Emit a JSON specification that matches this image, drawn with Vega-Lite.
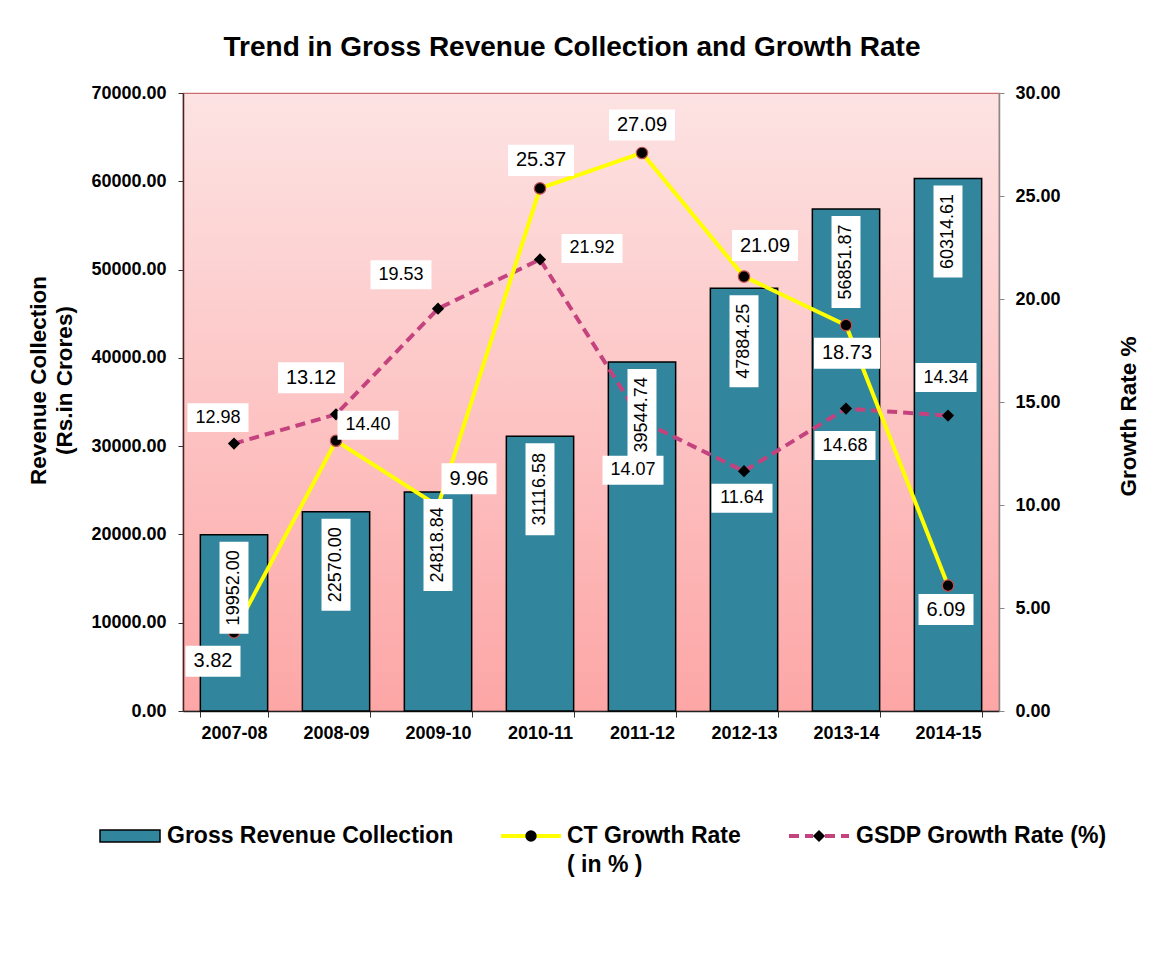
{
  "$schema": "https://vega.github.io/schema/vega-lite/v6.json",
  "width": 816,
  "height": 618,
  "autosize": "none",
  "padding": {"left": 183, "top": 93, "right": 168, "bottom": 243},
  "background": "white",
  "title": {
    "text": "Trend in Gross Revenue Collection and Growth Rate",
    "font": "Liberation Sans",
    "fontSize": 28,
    "fontWeight": "bold",
    "color": "black",
    "offset": 22,
    "dx": -19
  },
  "data": {
    "values": [
      {"year": "2007-08", "revenue": 19952.00, "ct": 3.82, "gsdp": 12.98},
      {"year": "2008-09", "revenue": 22570.00, "ct": 13.12, "gsdp": 14.40},
      {"year": "2009-10", "revenue": 24818.84, "ct": 9.96, "gsdp": 19.53},
      {"year": "2010-11", "revenue": 31116.58, "ct": 25.37, "gsdp": 21.92},
      {"year": "2011-12", "revenue": 39544.74, "ct": 27.09, "gsdp": 14.07},
      {"year": "2012-13", "revenue": 47884.25, "ct": 21.09, "gsdp": 11.64},
      {"year": "2013-14", "revenue": 56851.87, "ct": 18.73, "gsdp": 14.68},
      {"year": "2014-15", "revenue": 60314.61, "ct": 6.09, "gsdp": 14.34}
    ]
  },
  "encoding": {
    "x": {
      "field": "year",
      "type": "nominal",
      "sort": null,
      "scale": {"paddingInner": 0.34, "paddingOuter": 0.17},
      "axis": {
        "title": null,
        "labelAngle": 0,
        "tickBand": "extent",
        "tickSize": 6,
        "tickColor": "#333333",
        "domainColor": "#222222",
        "domainWidth": 1.5,
        "labelPadding": 7,
        "labelFontSize": 18
      }
    }
  },
  "layer": [
    {
      "mark": {"type": "bar", "stroke": "black", "strokeWidth": 1.5},
      "encoding": {
        "y": {
          "field": "revenue",
          "type": "quantitative",
          "scale": {"domain": [0, 70000], "nice": false},
          "axis": {
            "values": [0, 10000, 20000, 30000, 40000, 50000, 60000, 70000],
            "format": ".2f",
            "tickSize": 5,
            "tickColor": "#333333",
            "domainColor": "#4a2424",
            "domainWidth": 1.5,
            "labelPadding": 12,
            "title": ["Revenue Collection", "(Rs.in Crores)"],
            "titleFontSize": 22.5,
            "titleLineHeight": 26,
            "titleAngle": 270,
            "titleAlign": "center",
            "titleBaseline": "top",
            "titleX": -156,
            "titleY": 287
          }
        },
        "fill": {
          "datum": "Gross Revenue Collection",
          "type": "nominal",
          "scale": {"domain": ["Gross Revenue Collection"], "range": ["#31859C"]},
          "legend": {
            "orient": "none",
            "legendX": -84,
            "legendY": 712,
            "padding": 0,
            "title": null,
            "symbolType": "M-1,-0.2H1V0.2H-1Z",
            "symbolSize": 3600,
            "symbolStrokeColor": "black",
            "symbolStrokeWidth": 1.5,
            "labelOffset": 6,
            "labelFont": "Liberation Sans",
            "labelFontSize": 23,
            "labelFontWeight": "bold",
            "labelColor": "black",
            "labelLimit": 0
          }
        }
      }
    },
    {
      "transform": [{"fold": ["ct", "gsdp"], "as": ["series", "rate"]}],
      "encoding": {
        "y": {
          "field": "rate",
          "type": "quantitative",
          "scale": {"domain": [0, 30], "nice": false},
          "axis": {
            "orient": "right",
            "values": [0, 5, 10, 15, 20, 25, 30],
            "format": ".2f",
            "tickSize": 5,
            "tickColor": "#888888",
            "domainColor": "#888888",
            "domainWidth": 1.5,
            "labelPadding": 11,
            "title": "Growth Rate %",
            "titleFontSize": 22.5,
            "titleAngle": 270,
            "titleAlign": "center",
            "titleBaseline": "middle",
            "titleX": 129,
            "titleY": 323
          }
        }
      },
      "resolve": {"scale": {"shape": "independent"}},
      "layer": [
        {
          "transform": [{"filter": "datum.series === 'gsdp'"}],
          "mark": {"type": "line", "color": "#C4437F", "strokeWidth": 4},
          "encoding": {
            "strokeDash": {
              "datum": "GSDP Growth Rate (%)",
              "type": "nominal",
              "scale": {"domain": ["GSDP Growth Rate (%)"], "range": [[10, 6]]},
              "legend": {
                "orient": "none",
                "legendX": 604,
                "legendY": 711,
                "padding": 0,
                "title": null,
                "symbolType": "M-1,0H-0.2M0.2,0H1",
                "symbolSize": 3600,
                "symbolStrokeColor": "#C4437F",
                "symbolStrokeWidth": 4,
                "labelOffset": 5,
                "labelFont": "Liberation Sans",
                "labelFontSize": 23,
                "labelFontWeight": "bold",
                "labelColor": "black",
                "labelLimit": 0
              }
            }
          }
        },
        {
          "transform": [{"filter": "datum.series === 'ct'"}],
          "mark": {"type": "line", "strokeWidth": 4},
          "encoding": {
            "stroke": {
              "datum": "CT Growth Rate",
              "type": "nominal",
              "scale": {"domain": ["CT Growth Rate"], "range": ["#FFFF00"]},
              "legend": {
                "orient": "none",
                "legendX": 316,
                "legendY": 711,
                "padding": 0,
                "title": null,
                "symbolType": "M-1,0H-0.15M0.15,0H1",
                "symbolSize": 3600,
                "symbolStrokeWidth": 4,
                "labelOffset": 4,
                "labelFont": "Liberation Sans",
                "labelFontSize": 23,
                "labelFontWeight": "bold",
                "labelColor": "black",
                "labelLimit": 0,
                "labelExpr": "['CT Growth Rate', '( in % )']"
              }
            }
          }
        },
        {
          "transform": [{"filter": "datum.series === 'gsdp'"}],
          "mark": {"type": "point", "filled": true, "fill": "black", "size": 150, "opacity": 1, "strokeWidth": 0},
          "encoding": {
            "shape": {
              "datum": "GSDP dot",
              "type": "nominal",
              "scale": {"domain": ["GSDP dot"], "range": ["diamond"]},
              "legend": {
                "orient": "none",
                "legendX": 624.5,
                "legendY": 731.5,
                "padding": 0,
                "title": null,
                "symbolSize": 150,
                "symbolFillColor": "black",
                "symbolStrokeWidth": 0,
                "labelFont": "Liberation Sans",
                "labelFontSize": 23,
                "labelExpr": "''",
                "labelLimit": 0
              }
            }
          }
        },
        {
          "transform": [{"filter": "datum.series === 'ct'"}],
          "mark": {"type": "point", "filled": true, "fill": "black", "stroke": "#C0504D", "strokeWidth": 1.2, "size": 130, "opacity": 1},
          "encoding": {
            "shape": {
              "datum": "CT dot",
              "type": "nominal",
              "scale": {"domain": ["CT dot"], "range": ["circle"]},
              "legend": {
                "orient": "none",
                "legendX": 336.5,
                "legendY": 731.5,
                "padding": 0,
                "title": null,
                "symbolSize": 130,
                "symbolFillColor": "black",
                "symbolStrokeColor": "#C0504D",
                "symbolStrokeWidth": 1.2,
                "labelFont": "Liberation Sans",
                "labelFontSize": 23,
                "labelExpr": "''",
                "labelLimit": 0
              }
            }
          }
        },
        {
          "transform": [{"filter": "datum.series === 'gsdp' && datum.year === '2007-08'"}],
          "encoding": {"text": {"field": "rate", "type": "quantitative", "format": ".2f"}},
          "layer": [
            {"mark": {"type": "point", "shape": "M-1,-0.475H1V0.475H-1Z", "size": 3721, "filled": true, "fill": "white", "opacity": 1, "strokeWidth": 0, "xOffset": -16, "yOffset": -26}},
            {"mark": {"type": "text", "font": "Liberation Sans", "fontSize": 18, "color": "black", "xOffset": -16, "yOffset": -26}}
          ]
        },
        {
          "transform": [{"filter": "datum.series === 'gsdp' && datum.year === '2008-09'"}],
          "encoding": {"text": {"field": "rate", "type": "quantitative", "format": ".2f"}},
          "layer": [
            {"mark": {"type": "point", "shape": "M-1,-0.475H1V0.475H-1Z", "size": 3721, "filled": true, "fill": "white", "opacity": 1, "strokeWidth": 0, "xOffset": 32, "yOffset": 11}},
            {"mark": {"type": "text", "font": "Liberation Sans", "fontSize": 18, "color": "black", "xOffset": 32, "yOffset": 11}}
          ]
        },
        {
          "transform": [{"filter": "datum.series === 'gsdp' && datum.year === '2009-10'"}],
          "encoding": {"text": {"field": "rate", "type": "quantitative", "format": ".2f"}},
          "layer": [
            {"mark": {"type": "point", "shape": "M-1,-0.475H1V0.475H-1Z", "size": 3721, "filled": true, "fill": "white", "opacity": 1, "strokeWidth": 0, "xOffset": -37, "yOffset": -34}},
            {"mark": {"type": "text", "font": "Liberation Sans", "fontSize": 18, "color": "black", "xOffset": -37, "yOffset": -34}}
          ]
        },
        {
          "transform": [{"filter": "datum.series === 'gsdp' && datum.year === '2010-11'"}],
          "encoding": {"text": {"field": "rate", "type": "quantitative", "format": ".2f"}},
          "layer": [
            {"mark": {"type": "point", "shape": "M-1,-0.475H1V0.475H-1Z", "size": 3721, "filled": true, "fill": "white", "opacity": 1, "strokeWidth": 0, "xOffset": 52, "yOffset": -11}},
            {"mark": {"type": "text", "font": "Liberation Sans", "fontSize": 18, "color": "black", "xOffset": 52, "yOffset": -11}}
          ]
        },
        {
          "transform": [{"filter": "datum.series === 'gsdp' && datum.year === '2011-12'"}],
          "encoding": {"text": {"field": "rate", "type": "quantitative", "format": ".2f"}},
          "layer": [
            {"mark": {"type": "point", "shape": "M-1,-0.475H1V0.475H-1Z", "size": 3721, "filled": true, "fill": "white", "opacity": 1, "strokeWidth": 0, "xOffset": -9, "yOffset": 49}},
            {"mark": {"type": "text", "font": "Liberation Sans", "fontSize": 18, "color": "black", "xOffset": -9, "yOffset": 49}}
          ]
        },
        {
          "transform": [{"filter": "datum.series === 'gsdp' && datum.year === '2012-13'"}],
          "encoding": {"text": {"field": "rate", "type": "quantitative", "format": ".2f"}},
          "layer": [
            {"mark": {"type": "point", "shape": "M-1,-0.475H1V0.475H-1Z", "size": 3721, "filled": true, "fill": "white", "opacity": 1, "strokeWidth": 0, "xOffset": -2, "yOffset": 27}},
            {"mark": {"type": "text", "font": "Liberation Sans", "fontSize": 18, "color": "black", "xOffset": -2, "yOffset": 27}}
          ]
        },
        {
          "transform": [{"filter": "datum.series === 'gsdp' && datum.year === '2013-14'"}],
          "encoding": {"text": {"field": "rate", "type": "quantitative", "format": ".2f"}},
          "layer": [
            {"mark": {"type": "point", "shape": "M-1,-0.475H1V0.475H-1Z", "size": 3721, "filled": true, "fill": "white", "opacity": 1, "strokeWidth": 0, "xOffset": -1, "yOffset": 37}},
            {"mark": {"type": "text", "font": "Liberation Sans", "fontSize": 18, "color": "black", "xOffset": -1, "yOffset": 37}}
          ]
        },
        {
          "transform": [{"filter": "datum.series === 'gsdp' && datum.year === '2014-15'"}],
          "encoding": {"text": {"field": "rate", "type": "quantitative", "format": ".2f"}},
          "layer": [
            {"mark": {"type": "point", "shape": "M-1,-0.475H1V0.475H-1Z", "size": 3721, "filled": true, "fill": "white", "opacity": 1, "strokeWidth": 0, "xOffset": -2, "yOffset": -38}},
            {"mark": {"type": "text", "font": "Liberation Sans", "fontSize": 18, "color": "black", "xOffset": -2, "yOffset": -38}}
          ]
        },
        {
          "transform": [{"filter": "datum.series === 'ct' && datum.year === '2007-08'"}],
          "encoding": {"text": {"field": "rate", "type": "quantitative", "format": ".2f"}},
          "layer": [
            {"mark": {"type": "point", "shape": "M-1,-0.564H1V0.564H-1Z", "size": 3025, "filled": true, "fill": "white", "opacity": 1, "strokeWidth": 0, "xOffset": -21, "yOffset": 29}},
            {"mark": {"type": "text", "font": "Liberation Sans", "fontSize": 20, "color": "black", "xOffset": -21, "yOffset": 29}}
          ]
        },
        {
          "transform": [{"filter": "datum.series === 'ct' && datum.year === '2008-09'"}],
          "encoding": {"text": {"field": "rate", "type": "quantitative", "format": ".2f"}},
          "layer": [
            {"mark": {"type": "point", "shape": "M-1,-0.47H1V0.47H-1Z", "size": 4356, "filled": true, "fill": "white", "opacity": 1, "strokeWidth": 0, "xOffset": -25, "yOffset": -63}},
            {"mark": {"type": "text", "font": "Liberation Sans", "fontSize": 20, "color": "black", "xOffset": -25, "yOffset": -63}}
          ]
        },
        {
          "transform": [{"filter": "datum.series === 'ct' && datum.year === '2009-10'"}],
          "encoding": {"text": {"field": "rate", "type": "quantitative", "format": ".2f"}},
          "layer": [
            {"mark": {"type": "point", "shape": "M-1,-0.564H1V0.564H-1Z", "size": 3025, "filled": true, "fill": "white", "opacity": 1, "strokeWidth": 0, "xOffset": 31, "yOffset": -27}},
            {"mark": {"type": "text", "font": "Liberation Sans", "fontSize": 20, "color": "black", "xOffset": 31, "yOffset": -27}}
          ]
        },
        {
          "transform": [{"filter": "datum.series === 'ct' && datum.year === '2010-11'"}],
          "encoding": {"text": {"field": "rate", "type": "quantitative", "format": ".2f"}},
          "layer": [
            {"mark": {"type": "point", "shape": "M-1,-0.47H1V0.47H-1Z", "size": 4356, "filled": true, "fill": "white", "opacity": 1, "strokeWidth": 0, "xOffset": 1, "yOffset": -28}},
            {"mark": {"type": "text", "font": "Liberation Sans", "fontSize": 20, "color": "black", "xOffset": 1, "yOffset": -28}}
          ]
        },
        {
          "transform": [{"filter": "datum.series === 'ct' && datum.year === '2011-12'"}],
          "encoding": {"text": {"field": "rate", "type": "quantitative", "format": ".2f"}},
          "layer": [
            {"mark": {"type": "point", "shape": "M-1,-0.47H1V0.47H-1Z", "size": 4356, "filled": true, "fill": "white", "opacity": 1, "strokeWidth": 0, "xOffset": 0, "yOffset": -28}},
            {"mark": {"type": "text", "font": "Liberation Sans", "fontSize": 20, "color": "black", "xOffset": 0, "yOffset": -28}}
          ]
        },
        {
          "transform": [{"filter": "datum.series === 'ct' && datum.year === '2012-13'"}],
          "encoding": {"text": {"field": "rate", "type": "quantitative", "format": ".2f"}},
          "layer": [
            {"mark": {"type": "point", "shape": "M-1,-0.47H1V0.47H-1Z", "size": 4356, "filled": true, "fill": "white", "opacity": 1, "strokeWidth": 0, "xOffset": 21, "yOffset": -31}},
            {"mark": {"type": "text", "font": "Liberation Sans", "fontSize": 20, "color": "black", "xOffset": 21, "yOffset": -31}}
          ]
        },
        {
          "transform": [{"filter": "datum.series === 'ct' && datum.year === '2013-14'"}],
          "encoding": {"text": {"field": "rate", "type": "quantitative", "format": ".2f"}},
          "layer": [
            {"mark": {"type": "point", "shape": "M-1,-0.47H1V0.47H-1Z", "size": 4356, "filled": true, "fill": "white", "opacity": 1, "strokeWidth": 0, "xOffset": 1, "yOffset": 28}},
            {"mark": {"type": "text", "font": "Liberation Sans", "fontSize": 20, "color": "black", "xOffset": 1, "yOffset": 28}}
          ]
        },
        {
          "transform": [{"filter": "datum.series === 'ct' && datum.year === '2014-15'"}],
          "encoding": {"text": {"field": "rate", "type": "quantitative", "format": ".2f"}},
          "layer": [
            {"mark": {"type": "point", "shape": "M-1,-0.564H1V0.564H-1Z", "size": 3025, "filled": true, "fill": "white", "opacity": 1, "strokeWidth": 0, "xOffset": -2, "yOffset": 24}},
            {"mark": {"type": "text", "font": "Liberation Sans", "fontSize": 20, "color": "black", "xOffset": -2, "yOffset": 24}}
          ]
        }
      ]
    },
    {
      "encoding": {
        "y": {"field": "revenue", "type": "quantitative", "scale": {"domain": [0, 70000], "nice": false}, "axis": null},
        "text": {"field": "revenue", "type": "quantitative", "format": ".2f"}
      },
      "layer": [
        {"mark": {"type": "point", "shape": "M-0.315,-1H0.315V1H-0.315Z", "size": 8464, "filled": true, "fill": "white", "opacity": 1, "strokeWidth": 0, "yOffset": 53}},
        {"mark": {"type": "text", "font": "Liberation Sans", "fontSize": 18, "color": "black", "angle": 270, "align": "center", "baseline": "middle", "yOffset": 53}}
      ]
    }
  ],
  "resolve": {"scale": {"y": "independent"}},
  "config": {
    "font": "Liberation Sans",
    "style": {"guide-label": {"lineHeight": 29}},
    "view": {
      "fill": {
        "gradient": "linear",
        "x1": 0, "y1": 0, "x2": 0, "y2": 1,
        "stops": [
          {"offset": 0, "color": "#FDE3E3"},
          {"offset": 1, "color": "#FDA6A6"}
        ]
      },
      "stroke": "#C86E6E",
      "strokeWidth": 1.2
    },
    "axis": {
      "grid": false,
      "labelFont": "Liberation Sans",
      "labelFontSize": 18,
      "labelFontWeight": "bold",
      "labelColor": "black",
      "titleFont": "Liberation Sans",
      "titleFontWeight": "bold",
      "titleColor": "black"
    }
  }
}
